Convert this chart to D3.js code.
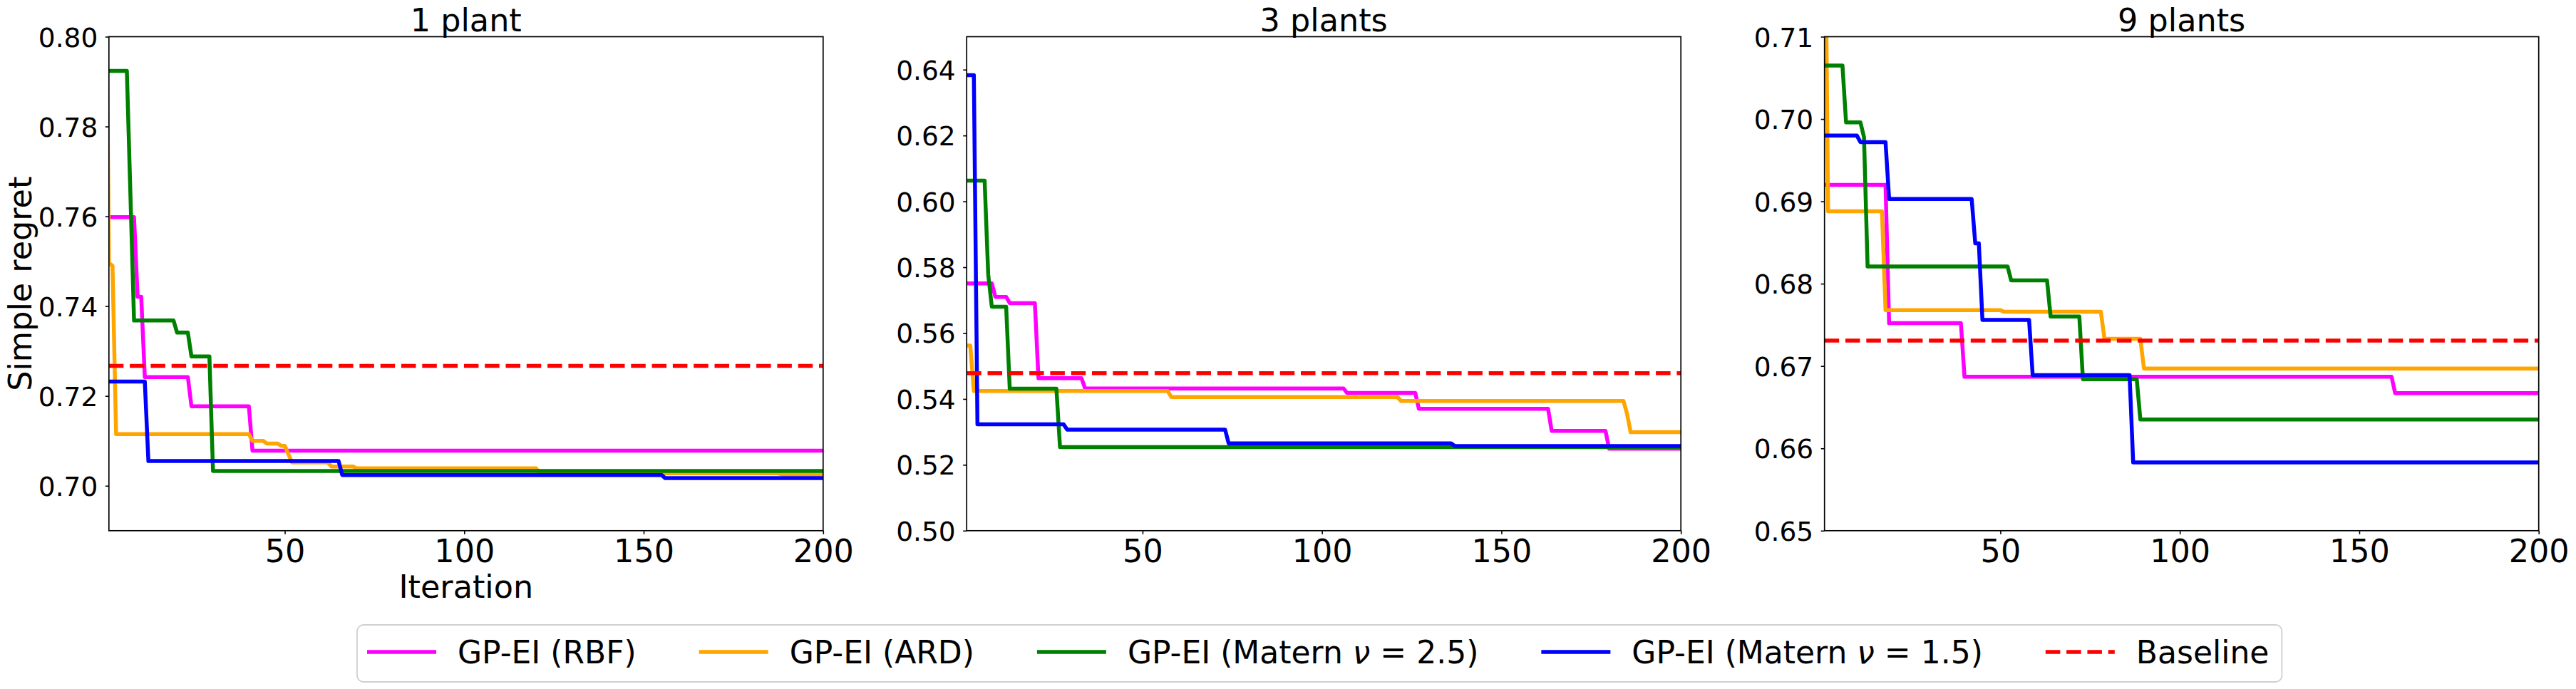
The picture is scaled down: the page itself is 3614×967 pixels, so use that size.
<!DOCTYPE html>
<html>
<head>
<meta charset="utf-8">
<script src="https://cdn.jsdelivr.net/npm/d3@7"></script>
<style>
  html, body { margin: 0; padding: 0; background: #ffffff; }
  svg { display: block; }
  text { font-family: "DejaVu Sans", sans-serif; fill: #000; }
</style>
</head>
<body>
<script>
// ---------------- DATA ----------------
const panelTitles = ["1 plant", "3 plants", "9 plants"];
const seriesLabels = ["GP-EI (RBF)", "GP-EI (ARD)", "GP-EI (Matern ν = 2.5)", "GP-EI (Matern ν = 1.5)", "Baseline"];
const xTicks = [50, 100, 150, 200];
const xDomain = [1, 200];
const yDomain1 = [0.69, 0.80];
const yDomain3 = [0.50, 0.65];
const yDomain9 = [0.65, 0.71];
const yTicks1 = [0.70, 0.72, 0.74, 0.76, 0.78, 0.80];
const yTicks3 = [0.50, 0.52, 0.54, 0.56, 0.58, 0.60, 0.62, 0.64];
const yTicks9 = [0.65, 0.66, 0.67, 0.68, 0.69, 0.70, 0.71];

// [iteration, simple regret] points of each curve (change points)
const rbf1 = [[1,0.7598],[8,0.7598],[9,0.7421],[10,0.7421],[11,0.7242],[23,0.7242],[24,0.7177],[40,0.7177],[41,0.7078],[200,0.7078]];
const ard1 = [[0,0.8400],[1,0.7496],[2,0.7490],[3,0.7115],[40,0.7115],[41,0.7100],[44,0.7100],[45,0.7094],[48,0.7094],[49,0.7089],[50,0.7089],[52,0.7052],[62,0.7052],[63,0.7043],[69,0.7043],[70,0.7039],[120,0.7039],[121,0.7028],[187,0.7028],[189,0.7025],[200,0.7025]];
const m25_1 = [[1,0.7924],[6,0.7924],[8,0.7368],[19,0.7368],[20,0.7341],[23,0.7341],[24,0.7288],[29,0.7288],[30,0.7033],[200,0.7033]];
const m15_1 = [[1,0.7232],[11,0.7232],[12,0.7055],[65,0.7055],[66,0.7024],[155,0.7024],[156,0.7017],[200,0.7017]];
const base1 = 0.7267;

const rbf3 = [[1,0.5751],[8,0.5751],[9,0.5710],[12,0.5710],[13,0.5691],[20,0.5691],[21,0.5463],[33,0.5463],[34,0.5432],[106,0.5432],[107,0.5418],[126,0.5418],[127,0.5370],[163,0.5370],[164,0.5303],[179,0.5303],[180,0.5249],[200,0.5249]];
const ard3 = [[1,0.5562],[2,0.5562],[3,0.5424],[57,0.5424],[58,0.5406],[121,0.5406],[122,0.5394],[184,0.5394],[185,0.5355],[186,0.5299],[200,0.5299]];
const m25_3 = [[1,0.6063],[6,0.6063],[7,0.5778],[8,0.5680],[12,0.5680],[13,0.5431],[26,0.5431],[27,0.5254],[200,0.5254]];
const m15_3 = [[1,0.6383],[3,0.6383],[4,0.5323],[28,0.5323],[29,0.5307],[73,0.5307],[74,0.5265],[136,0.5265],[137,0.5257],[200,0.5257]];
const base3 = 0.5478;

const rbf9 = [[1,0.6920],[18,0.6920],[19,0.6752],[39,0.6752],[40,0.6687],[159,0.6687],[160,0.6667],[200,0.6667]];
const ard9 = [[1,0.7350],[2,0.6888],[17,0.6888],[18,0.6768],[50,0.6768],[51,0.6766],[78,0.6766],[79,0.6733],[89,0.6733],[90,0.6697],[200,0.6697]];
const m25_9 = [[1,0.7065],[6,0.7065],[7,0.6996],[11,0.6996],[12,0.6978],[13,0.6821],[52,0.6821],[53,0.6804],[63,0.6804],[64,0.6760],[72,0.6760],[73,0.6684],[88,0.6684],[89,0.6635],[200,0.6635]];
const m15_9 = [[1,0.6980],[10,0.6980],[11,0.6972],[18,0.6972],[19,0.6903],[42,0.6903],[43,0.6849],[44,0.6849],[45,0.6756],[58,0.6756],[59,0.6689],[86,0.6689],[87,0.6583],[200,0.6583]];
const base9 = 0.6731;

// ---------------- STYLE / LAYOUT ----------------
const colors = ["#ff00ff", "#ffa500", "#008000", "#0000ff", "#ff0000"];
const W = 3614, H = 967;
const LW = 5.5;
const DASH = "20.5 8.8";
const FS = 44.5, FS_Y = 37.5;

const panels = [
  { title: panelTitles[0], yDomain: yDomain1, yTicks: yTicks1, series: [rbf1, ard1, m25_1, m15_1], base: base1 },
  { title: panelTitles[1], yDomain: yDomain3, yTicks: yTicks3, series: [rbf3, ard3, m25_3, m15_3], base: base3 },
  { title: panelTitles[2], yDomain: yDomain9, yTicks: yTicks9, series: [rbf9, ard9, m25_9, m15_9], base: base9 }
];

const svg = d3.select("body").append("svg")
  .attr("width", W).attr("height", H)
  .attr("viewBox", `0 0 ${W} ${H}`);
svg.append("rect").attr("width", W).attr("height", H).attr("fill", "#fff");

const axTop = 51.5, axBottom = 744.8, pw = 1002;
const lefts = [152.8, 1356.2, 2559.7];

panels.forEach((p, i) => {
  const left = lefts[i];
  const x = d3.scaleLinear().domain(xDomain).range([left, left + pw]);
  const y = d3.scaleLinear().domain(p.yDomain).range([axBottom, axTop]);
  const g = svg.append("g");

  const clipId = "clip" + i;
  svg.append("clipPath").attr("id", clipId)
    .append("rect").attr("x", left).attr("y", axTop).attr("width", pw).attr("height", axBottom - axTop);

  const plot = g.append("g").attr("clip-path", `url(#${clipId})`);
  const line = d3.line().x(d => x(d[0])).y(d => y(d[1]));

  p.series.forEach((s, k) => {
    plot.append("path").datum(s)
      .attr("d", line)
      .attr("fill", "none")
      .attr("stroke", colors[k])
      .attr("stroke-width", LW)
      .attr("stroke-linejoin", "round")
      .attr("stroke-linecap", "square");
  });
  plot.append("path").datum([[xDomain[0], p.base], [xDomain[1], p.base]])
    .attr("d", line)
    .attr("fill", "none")
    .attr("stroke", colors[4])
    .attr("stroke-width", LW)
    .attr("stroke-dasharray", DASH)
    .attr("stroke-linecap", "butt");

  // x axis
  const xa = g.append("g").attr("transform", `translate(0,${axBottom})`)
    .call(d3.axisBottom(x).tickValues(xTicks).tickSize(5).tickPadding(8).tickFormat(d3.format("d")));
  xa.select(".domain").remove();
  xa.selectAll("line").attr("stroke", "#000").attr("stroke-width", 1.6);
  xa.selectAll("text").attr("font-size", FS).attr("fill", "#000")
    .attr("font-family", "DejaVu Sans");

  // y axis
  const ya = g.append("g").attr("transform", `translate(${left},0)`)
    .call(d3.axisLeft(y).tickValues(p.yTicks).tickSize(5).tickPadding(10.5).tickFormat(d3.format(".2f")));
  ya.select(".domain").remove();
  ya.selectAll("line").attr("stroke", "#000").attr("stroke-width", 1.6);
  ya.selectAll("text").attr("font-size", FS_Y).attr("fill", "#000").attr("dy", "0.36em")
    .attr("font-family", "DejaVu Sans");

  // spines
  g.append("rect").attr("x", left).attr("y", axTop).attr("width", pw).attr("height", axBottom - axTop)
    .attr("fill", "none").attr("stroke", "#000").attr("stroke-width", 1.7);

  // title
  g.append("text").attr("x", left + pw / 2).attr("y", 44)
    .attr("text-anchor", "middle").attr("font-size", FS).text(p.title);

  if (i === 0) {
    g.append("text").attr("x", left + pw / 2).attr("y", 839)
      .attr("text-anchor", "middle").attr("font-size", FS).text("Iteration");
    g.append("text").attr("transform", `translate(43.5,${(axTop + axBottom) / 2}) rotate(-90)`)
      .attr("text-anchor", "middle").attr("font-size", FS).text("Simple regret");
  }
});

// ---------------- LEGEND ----------------
const leg = svg.append("g");
const legBox = leg.append("rect");
const handleLen = 97, handlePad = 30, colSpace = 88, legY = 915, legBase = 930.5;
let cx = 515;
let lastEnd = cx;
seriesLabels.forEach((lab, k) => {
  const hl = leg.append("line")
    .attr("x1", cx).attr("x2", cx + handleLen).attr("y1", legY).attr("y2", legY)
    .attr("stroke", colors[k]).attr("stroke-width", LW);
  if (k === 4) hl.attr("stroke-dasharray", DASH);
  const t = leg.append("text").attr("x", cx + handleLen + handlePad).attr("y", legBase).attr("font-size", 44);
  const m = lab.indexOf("ν");
  if (m >= 0) {
    t.append("tspan").text(lab.slice(0, m));
    t.append("tspan").attr("font-style", "italic").text("ν");
    t.append("tspan").text(lab.slice(m + 1));
  } else {
    t.text(lab);
  }
  const w = t.node().getComputedTextLength();
  lastEnd = cx + handleLen + handlePad + w;
  cx = lastEnd + colSpace;
});
legBox.attr("x", 501).attr("y", 877).attr("width", lastEnd + 18 - 501).attr("height", 80)
  .attr("rx", 9).attr("ry", 9)
  .attr("fill", "#fff").attr("stroke", "#d0d0d0").attr("stroke-width", 1.8);
</script>
</body>
</html>
